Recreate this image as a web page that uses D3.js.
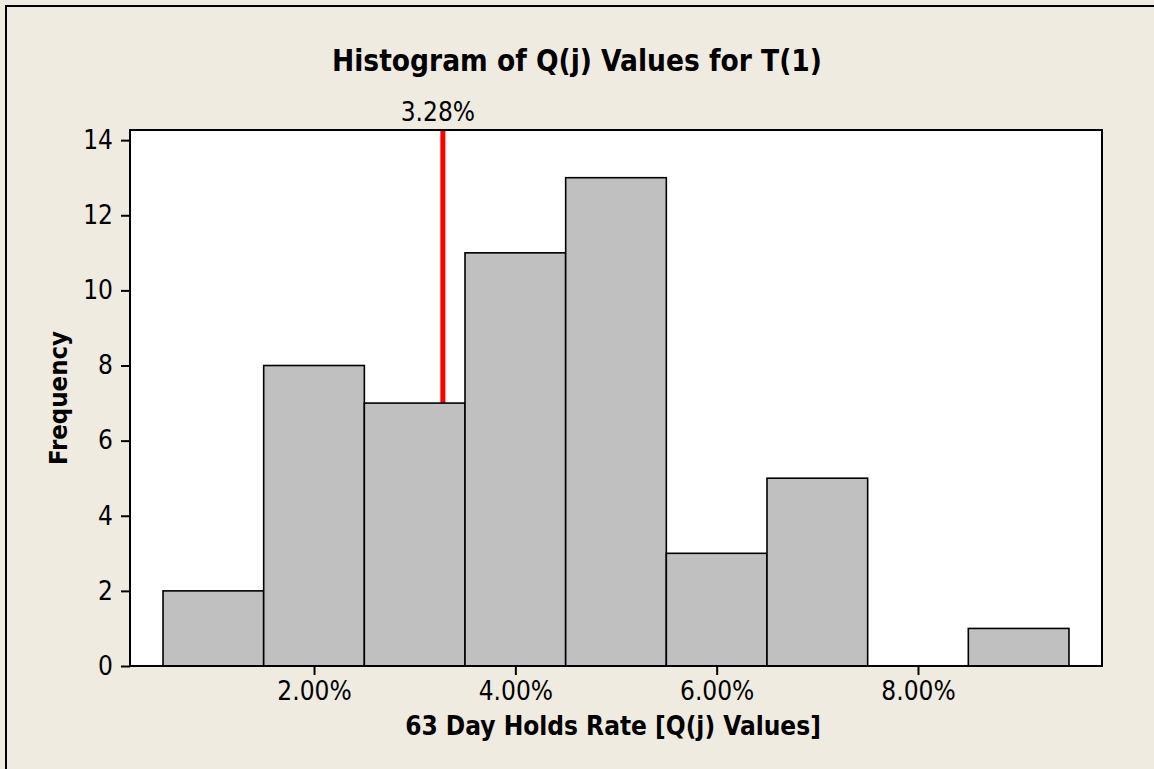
<!DOCTYPE html>
<html>
<head>
<meta charset="utf-8">
<script src="https://cdn.jsdelivr.net/npm/d3@7"></script>
<style>
  html, body { margin: 0; padding: 0; background: #EFEBE1; }
  svg { display: block; }
  text { font-family: "DejaVu Sans Condensed", "DejaVu Sans", sans-serif; font-stretch: condensed; fill: #000; }
</style>
</head>
<body>
<svg id="chart" width="1154" height="769"></svg>
<script>
// ---- data ----
const binEdges = [0.5, 1.5, 2.5, 3.5, 4.5, 5.5, 6.5, 7.5, 8.5, 9.5];   // Q(j) in %
const counts   = [2, 8, 7, 11, 13, 3, 5, 0, 1];
const xTicks   = [2, 4, 6, 8];
const yTicks   = [0, 2, 4, 6, 8, 10, 12, 14];
const refValue = 3.28;
const title    = "Histogram of Q(j) Values for T(1)";
const xTitle   = "63 Day Holds Rate [Q(j) Values]";
const yTitle   = "Frequency";

const bins = counts.map((c, i) => ({ x0: binEdges[i], x1: binEdges[i + 1], n: c }));

// ---- layout ----
const W = 1154, H = 769;
const plot = { left: 130, right: 1102, top: 130, bottom: 666 };

const svg = d3.select("#chart");
svg.append("rect").attr("width", W).attr("height", H).attr("fill", "#EFEBE1");

// outer frame (left and top edges visible)
svg.append("path")
  .attr("d", `M6,${H} L6,6 L${W},6`)
  .attr("fill", "none").attr("stroke", "#000").attr("stroke-width", 2);

const x = d3.scaleLinear().domain([0.172, 9.828]).range([plot.left, plot.right]);
const y = d3.scaleLinear().domain([0, 14.27]).range([plot.bottom, plot.top]);

// plot background
svg.append("rect")
  .attr("x", plot.left).attr("y", plot.top)
  .attr("width", plot.right - plot.left).attr("height", plot.bottom - plot.top)
  .attr("fill", "#fff");

// reference line (behind bars)
svg.append("line")
  .attr("x1", x(refValue)).attr("x2", x(refValue))
  .attr("y1", plot.top).attr("y2", plot.bottom)
  .attr("stroke", "#FF0000").attr("stroke-width", 5);

// bars
svg.append("g").selectAll("rect")
  .data(bins.filter(d => d.n > 0))
  .join("rect")
  .attr("x", d => x(d.x0))
  .attr("width", d => x(d.x1) - x(d.x0))
  .attr("y", d => y(d.n))
  .attr("height", d => y(0) - y(d.n))
  .attr("fill", "#C0C0C0")
  .attr("stroke", "#000")
  .attr("stroke-width", 1.6);

// plot border
svg.append("rect")
  .attr("x", plot.left).attr("y", plot.top)
  .attr("width", plot.right - plot.left).attr("height", plot.bottom - plot.top)
  .attr("fill", "none").attr("stroke", "#000").attr("stroke-width", 2);

// axes
const xAxis = d3.axisBottom(x).tickValues(xTicks).tickSize(9).tickPadding(7)
  .tickFormat(d => d3.format(".2f")(d) + "%");
const gx = svg.append("g").attr("transform", `translate(0,${plot.bottom})`).call(xAxis);
gx.select(".domain").remove();
gx.selectAll(".tick line").attr("stroke", "#000").attr("stroke-width", 2);
gx.selectAll(".tick text").attr("font-size", 26);

const yAxis = d3.axisLeft(y).tickValues(yTicks).tickSize(9).tickPadding(8);
const gy = svg.append("g").attr("transform", `translate(${plot.left},0)`).call(yAxis);
gy.select(".domain").remove();
gy.selectAll(".tick line").attr("stroke", "#000").attr("stroke-width", 2);
gy.selectAll(".tick text").attr("font-size", 26);
svg.selectAll(".tick text").attr("font-family", null);

// reference label
svg.append("text")
  .attr("x", x(refValue) - 5).attr("y", 121)
  .attr("text-anchor", "middle").attr("font-size", 26)
  .text(d3.format(".2f")(refValue) + "%");

// titles
svg.append("text")
  .attr("x", 577).attr("y", 71)
  .attr("text-anchor", "middle").attr("font-size", 29.5).attr("font-weight", "bold")
  .text(title);

svg.append("text")
  .attr("x", (plot.left + plot.right) / 2 - 3).attr("y", 735)
  .attr("text-anchor", "middle").attr("font-size", 26).attr("font-weight", "bold")
  .text(xTitle);

svg.append("text")
  .attr("transform", `translate(67,${(plot.top + plot.bottom) / 2}) rotate(-90)`)
  .attr("text-anchor", "middle").attr("font-size", 25.5).attr("font-weight", "bold")
  .text(yTitle);
</script>
</body>
</html>
